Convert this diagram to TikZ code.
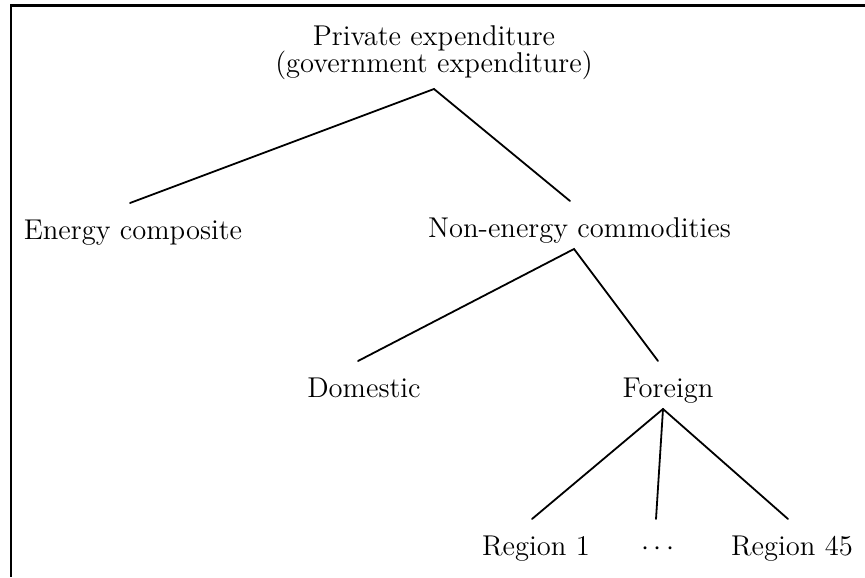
\documentclass[tikz,border=0pt]{standalone}
\begin{document}
\begin{tikzpicture}[x=0.5pt,y=-0.5pt,
  lbl/.style={inner sep=0pt, outer sep=0pt, anchor=base, text height=18pt, text depth=6pt,
    font=\fontsize{14.3}{13.5}\selectfont},
  rootlbl/.style={inner sep=0pt, outer sep=0pt, anchor=south, align=center,
    font=\fontsize{14.3}{13.5}\selectfont},
  edge/.style={line width=0.9pt, line cap=round},
  frame/.style={line width=1.1pt}]
\useasboundingbox (0,0) rectangle (865,577);
% frame (top and left)
\draw[frame] (865,5.5) -- (11,5.5) -- (11,577);
% nodes
\node[rootlbl] (root) at (434,80) {Private expenditure\\(government expenditure)};
\node[lbl] (energy) at (133,239) {Energy composite};
\node[lbl] (ne) at (579.5,237) {Non-energy commodities};
\node[lbl] (dom) at (364,397) {Domestic};
\node[lbl] (for) at (668,397) {Foreign};
\node[lbl] (r1) at (536,555) {Region 1};
\node[lbl] (dots) at (658,555) {$\cdots$};
\node[lbl] (r45) at (792,555) {Region 45};
% connectors
\draw[edge] ([xshift=-1.5pt]energy.north) -- ([yshift=-4.5pt]root.south) -- ([xshift=-4.75pt]ne.north);
\draw[edge] ([xshift=-3pt]dom.north) -- ([xshift=-2.75pt]ne.south) -- ([xshift=-5pt]for.north);
\draw[edge] ([xshift=-2pt]r1.north) -- ([xshift=-2.5pt]for.south) -- ([xshift=-2pt]r45.north);
\draw[edge] ([xshift=-2.5pt]for.south) -- ([xshift=-1pt]dots.north);
\end{tikzpicture}
\end{document}
